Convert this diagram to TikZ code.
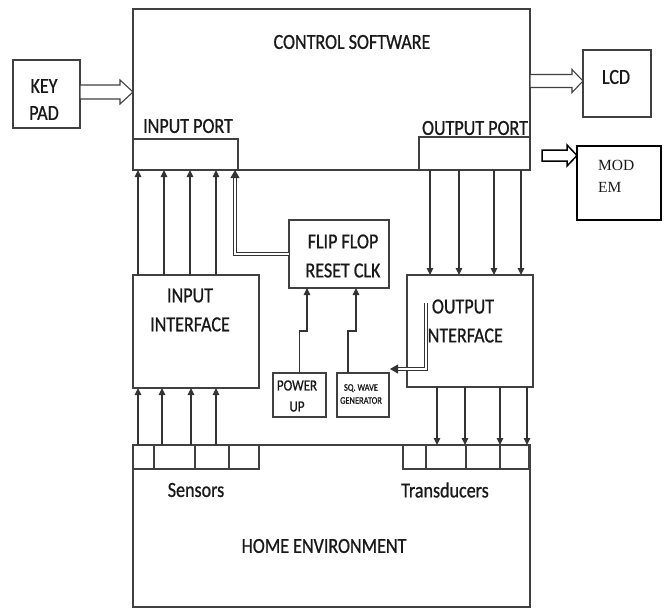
\documentclass[tikz,border=0pt]{standalone}
\usepackage{fontspec}
\setmainfont{Carlito}[FakeStretch=0.84, FakeBold=0.8]
\newfontfamily\timesfont{Liberation Serif}
\usetikzlibrary{arrows.meta,calc}

\tikzset{
  box/.style={draw=black!75, line width=1.1pt, inner sep=0pt, outer sep=0pt, anchor=north west},
  wire/.style={draw=black!75, line width=1.1pt},
  lbl/.style={font=\fontsize{21.5}{29}\selectfont, text=black!90, inner sep=0pt, align=center},
  sig/.style={draw=black!80, line width=1.1pt, -{Triangle[length=7pt,width=6.5pt]}},
  dsig/.style={draw=black!80, line width=0.9pt, double, double distance=2.6pt, -{Triangle[length=8pt,width=9pt]}},
  hollow/.style={draw=black!75, line width=1.1pt, fill=white, line join=miter},
}

\begin{document}
\begin{tikzpicture}[x=1pt, y=-1pt]
  \useasboundingbox (0,0) rectangle (667,608);

  % Blocks
  \node[box, minimum width=397pt, minimum height=161pt] (ctrl) at (133,9) {};
  \node[box, minimum width=105pt, minimum height=31pt] (inport) at (133,139) {};
  \node[box, minimum width=111pt, minimum height=33pt] (outport) at (419,137) {};
  \node[box, minimum width=67pt, minimum height=68pt] (keypad) at (13,60) {};
  \node[box, minimum width=68pt, minimum height=67pt] (lcd) at (583,50) {};
  \node[box, draw=black, line width=1.5pt, minimum width=84pt, minimum height=74pt] (modem) at (577,146) {};
  \node[box, minimum width=126pt, minimum height=113pt] (inif) at (133,275) {};
  \node[box, minimum width=126pt, minimum height=112pt] (outif) at (407,275) {};
  \node[box, minimum width=100pt, minimum height=68pt] (ffp) at (289,220) {};
  \node[box, minimum width=53pt, minimum height=44pt] (pwr) at (273,373) {};
  \node[box, minimum width=52pt, minimum height=44pt] (sqw) at (337,373) {};
  \node[box, minimum width=397pt, minimum height=162pt] (home) at (133,445) {};
  \node[box, minimum width=126pt, minimum height=24pt] (sens) at (133,445) {};
  \node[box, minimum width=126pt, minimum height=24pt] (trans) at (403,445) {};

  % Slot dividers
  \foreach \dx in {21,62,96}
    \draw[wire] (sens.north west) ++(\dx,0) -- ++(0,24);
  \foreach \dx in {23,63,97}
    \draw[wire] (trans.north west) ++(\dx,0) -- ++(0,24);

  % Labels
  \node[lbl] (ctrltxt) at (352,42) {CONTROL SOFTWARE};
  \node[lbl] (inporttxt) at (188,126) {INPUT PORT};
  \node[lbl] (outporttxt) at (475,128) {OUTPUT PORT};
  \node[lbl, font=\fontsize{21.5}{27}\selectfont] (keypadtxt) at (44,99.5) {KEY\\PAD};
  \node[lbl] (lcdtxt) at (616,77) {LCD};
  \node[lbl, font=\timesfont\fontsize{15.5}{22}\selectfont, align=left, anchor=west] (modemtxt) at (598,176) {MOD\\EM};
  \node[lbl] (iniftxt) at (190,310) {INPUT\\INTERFACE};
  \node[lbl] (outiftxt) at (463,321) {OUTPUT\\INTERFACE};
  \node[lbl] (ffptxt) at (343,256) {FLIP FLOP\\RESET CLK};
  \node[lbl, font=\fontsize{15.5}{21}\selectfont] (pwrtxt) at (297,396) {POWER\\UP};
  \node[lbl, font=\fontsize{10}{13}\selectfont] (sqwtxt) at (361,394) {SQ. WAVE\\GENERATOR};
  \node[lbl] (senstxt) at (196,490) {Sensors};
  \node[lbl] (transtxt) at (445,490) {Transducers};
  \node[lbl] (hometxt) at (324,546) {HOME ENVIRONMENT};

  % Input interface up to input port
  \foreach \dx in {5,31,57,83}
    \draw[sig] (inif.north west) ++(\dx,0) -- ++(0,-105);
  % Output port down to output interface
  \foreach \dx in {11,40,75,102}
    \draw[sig] (outport.south west) ++(\dx,0) -- ++(0,105);
  % Sensors up to input interface
  \foreach \dx in {5,29,58,83}
    \draw[sig] (sens.north west) ++(\dx,0) -- ++(0,-57);
  % Output interface down to transducers
  \foreach \dx in {30,58,93,120}
    \draw[sig] (outif.south west) ++(\dx,0) -- ++(0,58);

  % Flip flop, power up and square wave
  \draw[dsig] (ffp.west) -| ($(inport.south east)+(-3,0)$);
  \draw[sig] (pwr.north) -- ++(0,-42) -| ($(ffp.south west)+(18,0)$);
  \draw[sig] ($(sqw.north west)+(11,0)$) -- ++(0,-42) -| ($(ffp.south west)+(67,0)$);
  \draw[dsig] ($(outif.north west)+(19,28)$) |- ($(sqw.north east)+(1,-4)$);

  % Block arrows
  \coordinate (mdin) at ($(modem.north west)+(-35,4)$);
  \draw[hollow] ($(keypad.east)+(0,-9)$) -- ++(40,0) -- ++(0,-5) -- ++(13,12)
    -- ++(-13,12) -- ++(0,-5) -- ++(-40,0) -- cycle;
  \draw[hollow] ($(lcd.west)+(-53,-9)$) -- ++(42,0) -- ++(0,-5) -- ++(11,11.5)
    -- ++(-11,11.5) -- ++(0,-5) -- ++(-42,0) -- cycle;
  \draw[hollow, draw=black, line width=1.5pt] (mdin) -- ++(25,0) -- ++(0,-5) -- ++(10,10.5)
    -- ++(-10,10.5) -- ++(0,-5) -- ++(-25,0) -- cycle;

\end{tikzpicture}
\end{document}
